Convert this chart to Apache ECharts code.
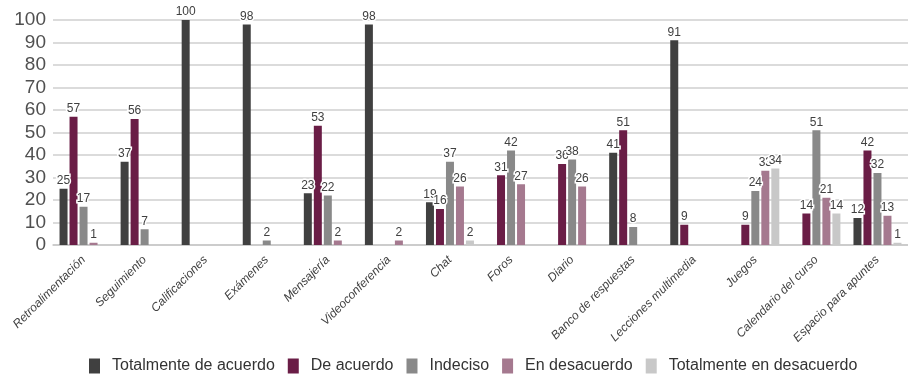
<!DOCTYPE html>
<html>
<head>
<meta charset="utf-8">
<script src="https://cdn.jsdelivr.net/npm/echarts@6/dist/echarts.min.js"></script>
<style>
  html, body { margin: 0; padding: 0; background: #fff; }
  #chart { width: 908px; height: 377px; }
</style>
</head>
<body>
<div id="chart"></div>
<script>
// Categories of the platform tools
const categories = [
  'Retroalimentación', 'Seguimiento', 'Calificaciones', 'Exámenes', 'Mensajería',
  'Videoconferencia', 'Chat', 'Foros', 'Diario', 'Banco de respuestas',
  'Lecciones multimedia', 'Juegos', 'Calendario del curso', 'Espacio para apuntes'
];

// Percentages per response (null = no response of that kind)
const totalmenteDeAcuerdo   = [25, 37, 100, 98, 23, 98, 19, null, null, 41, 91, null, null, 12];
const deAcuerdo             = [57, 56, null, null, 53, null, 16, 31, 36, 51, 9, 9, 14, 42];
const indeciso              = [17, 7, null, 2, 22, null, 37, 42, 38, 8, null, 24, 51, 32];
const enDesacuerdo          = [1, null, null, null, 2, 2, 26, 27, 26, null, null, 33, 21, 13];
const totalmenteEnDesacuerdo = [null, null, null, null, null, null, 2, null, null, null, null, 34, 14, 1];

const yTicks = { min: 0, max: 100, interval: 10 };

const seriesDefs = [
  { name: 'Totalmente de acuerdo', data: totalmenteDeAcuerdo, color: '#404040' },
  { name: 'De acuerdo', data: deAcuerdo, color: '#6a1d46' },
  { name: 'Indeciso', data: indeciso, color: '#898989' },
  { name: 'En desacuerdo', data: enDesacuerdo, color: '#a5798f' },
  { name: 'Totalmente en desacuerdo', data: totalmenteEnDesacuerdo, color: '#c8c8c8' }
];

const chart = echarts.init(document.getElementById('chart'), null, { renderer: 'canvas' });

chart.setOption({
  animation: false,
  textStyle: { fontFamily: 'Liberation Sans, Arial, sans-serif' },
  grid: { left: 53, right: -4, top: 20, bottom: 132, containLabel: false },
  legend: {
    top: 353,
    left: 84,
    itemWidth: 11,
    itemHeight: 15,
    itemGap: 13,
    icon: 'rect',
    textStyle: { fontSize: 16, color: '#333', padding: [0, 0, 0, 7] },
    data: seriesDefs.map(s => s.name)
  },
  xAxis: {
    type: 'category',
    data: categories,
    axisTick: { show: false },
    axisLine: { lineStyle: { color: '#c8c8c8', width: 1.5 } },
    axisLabel: {
      rotate: 45,
      interval: 0,
      fontStyle: 'italic',
      fontSize: 12,
      color: '#404040',
      margin: 13
    }
  },
  yAxis: {
    type: 'value',
    min: yTicks.min,
    max: yTicks.max,
    interval: yTicks.interval,
    axisLine: { show: false },
    axisTick: { show: false },
    splitLine: { lineStyle: { color: '#cfcfcf', width: 1.5 } },
    axisLabel: { fontSize: 19, color: '#505050', margin: 7 }
  },
  series: seriesDefs.map(s => ({
    name: s.name,
    type: 'bar',
    data: s.data,
    barWidth: 8,
    barGap: '25%',
    itemStyle: { color: s.color },
    label: {
      show: true,
      position: 'top',
      distance: 2,
      fontSize: 12,
      color: '#404040',
      textBorderColor: '#fff',
      textBorderWidth: 3
    }
  }))
});
</script>
</body>
</html>
